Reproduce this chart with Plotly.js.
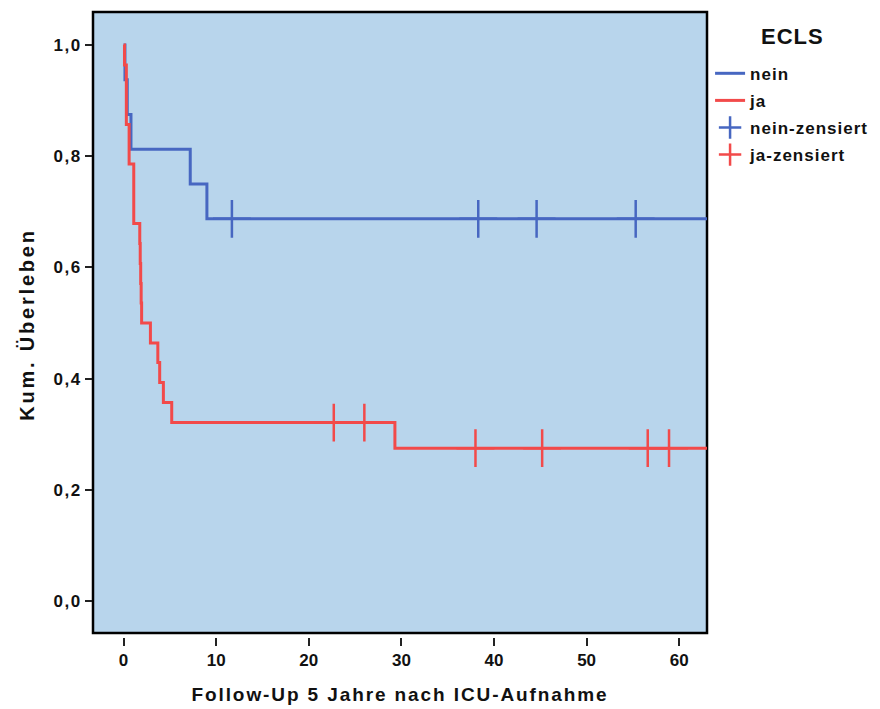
<!DOCTYPE html>
<html><head><meta charset="utf-8">
<script src="https://cdn.plot.ly/plotly-3.0.1.min.js"></script>
<style>
body{margin:0;padding:0;background:#fff}#chart{width:880px;height:709px}
#chart .xtitle{letter-spacing:1.9px}
#chart .ytitle{letter-spacing:2.8px}
#chart .ytick text{letter-spacing:1.5px}
#chart .legendtext{letter-spacing:1px}
#chart .annotation-text{letter-spacing:1px}
#chart .legend, #chart .legend *{clip-path:none !important}
</style>
</head><body><div id="chart"></div>
<script>
// Kaplan-Meier data (months)
const timesNein = [0, 0.15, 0.4, 0.8, 7.2, 9.0, 64];
const survNein  = [1.0, 0.9375, 0.875, 0.8125, 0.75, 0.6875, 0.6875];
const censNein  = [11.7, 38.3, 44.6, 55.3];

const timesJa = [0, 0.1, 0.3, 0.6, 1.1, 1.75, 1.8, 1.85, 1.9, 1.95, 2.9, 3.7, 3.9, 4.3, 5.2, 29.3, 64];
const survJa  = [1.0, 0.964, 0.857, 0.786, 0.679, 0.643, 0.607, 0.571, 0.536, 0.5, 0.464, 0.429, 0.393, 0.357, 0.321, 0.275, 0.275];
const censJa  = [22.7, 26.0, 38.0, 45.2, 56.6, 58.9];

const groupNames = ["nein", "ja", "nein-zensiert", "ja-zensiert"];
const legendTitle = "ECLS";
const xTitle = "Follow-Up 5 Jahre nach ICU-Aufnahme";
const yTitle = "Kum. Überleben";
const xTicks = [0, 10, 20, 30, 40, 50, 60];
const yTicks = [0, 0.2, 0.4, 0.6, 0.8, 1.0];

const BLUE = "#4767C1", RED = "#F24A4A", BG = "#B8D5EC";

function survAt(times, surv, t) {
  let s = surv[0];
  for (let i = 0; i < times.length; i++) { if (times[i] <= t) s = surv[i]; }
  return s;
}

const bold = {family: "Liberation Sans, Arial, sans-serif", weight: "bold", color: "#111"};
const f = (size) => Object.assign({}, bold, {size: size});

const traces = [
  {x: timesNein, y: survNein, mode: "lines", line: {shape: "hv", color: BLUE, width: 3},
   name: groupNames[0], legendgroup: "g1"},
  {x: timesJa, y: survJa, mode: "lines", line: {shape: "hv", color: RED, width: 3},
   name: groupNames[1], legendgroup: "g2"},
  {x: censNein, y: censNein.map(t => survAt(timesNein, survNein, t)), mode: "markers",
   marker: {symbol: "cross-thin", size: 27, line: {color: BLUE, width: 2.5}, color: BLUE},
   name: groupNames[2], legendgroup: "g3"},
  {x: censJa, y: censJa.map(t => survAt(timesJa, survJa, t)), mode: "markers",
   marker: {symbol: "cross-thin", size: 27, line: {color: RED, width: 2.5}, color: RED},
   name: groupNames[3], legendgroup: "g4"}
];

const layout = {
  width: 880, height: 709,
  margin: {l: 93, r: 173, t: 12, b: 72},
  paper_bgcolor: "#fff", plot_bgcolor: "#fff",
  separators: ",.",
  showlegend: true,
  legend: {
    x: 1.005, xanchor: "left", y: 0.930, yanchor: "top",
    font: f(17),
    tracegroupgap: 2, bgcolor: "rgba(0,0,0,0)"
  },
  annotations: [{text: legendTitle, xref: "paper", yref: "paper", x: 1.14, y: 0.961,
                 xanchor: "center", yanchor: "middle", showarrow: false, font: f(22)}],
  xaxis: {
    range: [-3.3, 63.0], tickvals: xTicks,
    ticks: "outside", ticklen: 8, tickwidth: 1.5, tickcolor: "#222",
    showgrid: false, zeroline: false, showline: false,
    tickfont: f(17),
    title: {text: xTitle, font: f(19), standoff: 18}
  },
  yaxis: {
    range: [-0.0647, 1.0594], tickvals: yTicks, tickformat: ".1f",
    ticks: "outside", ticklen: 7, tickwidth: 1.5, tickcolor: "#222",
    showgrid: false, zeroline: false, showline: false,
    tickfont: f(17),
    title: {text: yTitle, font: f(20), standoff: 17}
  },
  shapes: [{type: "rect", xref: "paper", yref: "paper", x0: 0, x1: 1, y0: 0.0064, y1: 1,
            line: {color: "#000", width: 2.5}, fillcolor: BG, layer: "below"}]
};

Plotly.newPlot("chart", traces, layout, {displayModeBar: false, responsive: false});
</script></body></html>
